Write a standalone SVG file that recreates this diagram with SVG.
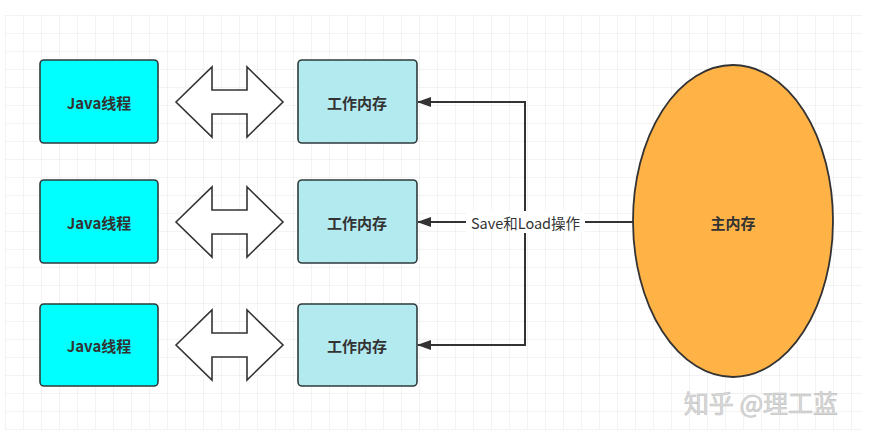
<svg xmlns="http://www.w3.org/2000/svg" width="885" height="440" viewBox="0 0 885 440">
  <defs>
    <pattern id="grid" x="5" y="15" width="18" height="18" patternUnits="userSpaceOnUse">
      <path d="M0 0 H18 M0 0 V18" fill="none" stroke="#e8e8e8" stroke-width="1"/>
    </pattern>
    <marker id="arr" viewBox="0 0 14 10" refX="13" refY="5" markerWidth="14" markerHeight="10" markerUnits="userSpaceOnUse" orient="auto">
      <path d="M0 0 L14 5 L0 10 Z" fill="#333"/>
    </marker>
    <path id="dbl" d="M0 0 L36 -35 L36 -12 L71 -12 L71 -35 L107 0 L71 35 L71 12 L36 12 L36 35 Z"/>
  </defs>
  <style>
    .thread { fill: #00ffff; stroke: #2f3b3b; stroke-width: 1.6; }
    .work { fill: #b3eaf0; stroke: #2f3b3b; stroke-width: 1.6; }
    .lbl { font-family: "Noto Sans CJK SC", "Liberation Sans", sans-serif; font-size: 15px; font-weight: bold; fill: #333; text-anchor: middle; dominant-baseline: central; }
    .dbl { fill: #fff; stroke: #333; stroke-width: 1.6; stroke-linejoin: miter; }
    .conn { fill: none; stroke: #333; stroke-width: 2; }
  </style>
  <rect x="0" y="0" width="885" height="440" fill="#fff"/>
  <rect x="5" y="15" width="857" height="415" fill="url(#grid)"/>

  <g id="thread1"><rect class="thread" x="40" y="60" width="118" height="83" rx="4"/><text class="lbl" x="99" y="102">Java线程</text></g>
  <g id="thread2"><rect class="thread" x="40" y="180" width="118" height="83" rx="4"/><text class="lbl" x="99" y="222">Java线程</text></g>
  <g id="thread3"><rect class="thread" x="40" y="304" width="118" height="82" rx="4"/><text class="lbl" x="99" y="345">Java线程</text></g>

  <g id="arrow1"><use href="#dbl" class="dbl" transform="translate(176,102)"/></g>
  <g id="arrow2"><use href="#dbl" class="dbl" transform="translate(176,222)"/></g>
  <g id="arrow3"><use href="#dbl" class="dbl" transform="translate(176,345)"/></g>

  <g id="work1"><rect class="work" x="298" y="60" width="119" height="83" rx="4"/><text class="lbl" x="357" y="102">工作内存</text></g>
  <g id="work2"><rect class="work" x="298" y="180" width="119" height="83" rx="4"/><text class="lbl" x="357" y="222">工作内存</text></g>
  <g id="work3"><rect class="work" x="298" y="304" width="119" height="82" rx="4"/><text class="lbl" x="357" y="345">工作内存</text></g>

  <g id="main"><ellipse cx="733" cy="221" rx="100" ry="156" fill="#ffb347" stroke="#333" stroke-width="1.8"/><text class="lbl" x="733" y="222">主内存</text></g>

  <g id="connectors">
    <path class="conn" d="M633 222 H418" marker-end="url(#arr)"/>
    <path class="conn" d="M525 222 V102 H418" marker-end="url(#arr)"/>
    <path class="conn" d="M525 222 V345 H418" marker-end="url(#arr)"/>
    <rect x="466" y="211" width="119" height="22" fill="#fff"/>
    <text x="525.5" y="222" font-family="'Noto Sans CJK SC', 'Liberation Sans', sans-serif" font-size="14.5" fill="#333" text-anchor="middle" dominant-baseline="central">Save和Load操作</text>
  </g>

  <text x="761" y="402" font-family="'Noto Sans CJK SC', sans-serif" font-size="25" fill="#dadada" stroke="#c2c2c2" stroke-width="0.6" text-anchor="middle" dominant-baseline="central">知乎 @理工蓝</text>
</svg>
